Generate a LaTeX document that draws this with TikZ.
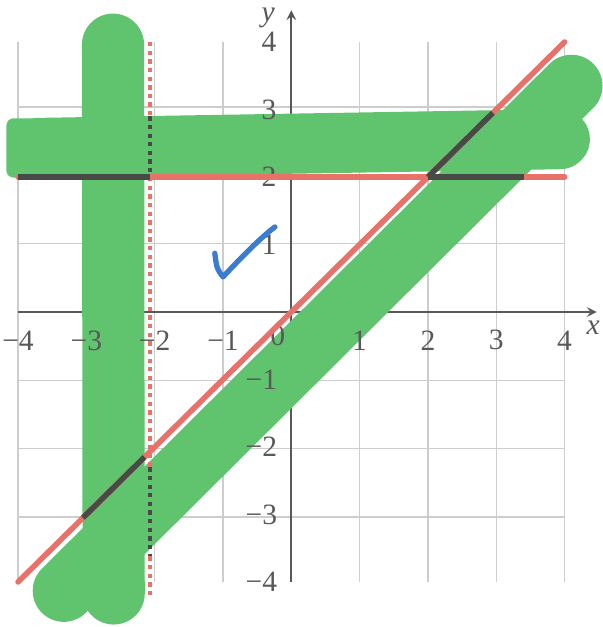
\documentclass[tikz,border=0pt]{standalone}
\usepackage{fontspec}
\setmainfont{Liberation Serif}
\definecolor{hlgreen}{RGB}{96,195,110}
\definecolor{penred}{RGB}{232,114,106}
\definecolor{overdark}{RGB}{72,74,72}
\definecolor{inkblue}{RGB}{58,124,208}
\definecolor{gridgray}{RGB}{205,205,205}
\definecolor{axisgray}{RGB}{88,88,88}
\tikzset{
  marker/.style={hlgreen, line width=0.91cm, line cap=round},
  redline/.style={penred, line width=2.3pt, line cap=round},
  darkline/.style={overdark, line width=2.3pt},
  ticklab/.style={text=axisgray, font=\fontsize{12.3}{14}\selectfont, inner sep=0pt},
}

\begin{document}
\begin{tikzpicture}[x=1cm, y=0.988cm]
            \useasboundingbox (-4.264,-4.667) rectangle (4.561,4.622);
            \draw[gridgray, line width=0.5pt] (-4,-4) grid (4,4);
            \draw[axisgray, line width=0.8pt, ->, >=stealth] (-4,0) -- (4.47,0);
            \draw[axisgray, line width=0.8pt, ->, >=stealth] (0,-4) -- (0,4.47);
            % highlighter
            \draw[marker] (-2.61,3.96) -- (-2.6,-4.17);
            \draw[marker] (-3.33,-4.13) -- (4.1,3.35);
            \draw[marker, line width=0.88cm] (-3.7,2.43) -- (3.93,2.56);
            \fill[hlgreen, rounded corners=3pt] (-4.17,1.99) rectangle (-3.5,2.87);
            % ticks
            \foreach \i in {1,...,4} {
                \node[ticklab] (xp\i) at (\i,-0.42) {\i};
                \node[ticklab] (xm\i) at (-\i,-0.43) {−\i};
                \node[ticklab, anchor=east] (yp\i) at (-0.21,\i) {\i};
                \node[ticklab, anchor=east] (ym\i) at (-0.2,-\i) {−\i};
            }
            \node[ticklab] (orig) at (-0.2,-0.36) {0};
            \node[ticklab, font=\fontsize{12.3}{14}\selectfont\itshape] (xlab) at (4.42,-0.24) {x};
            \node[ticklab, font=\fontsize{12.3}{14}\selectfont\itshape] (ylab) at (-0.34,4.36) {y};
            % lines
            \draw[redline] (-4,-4) -- (4,4);
            \draw[redline] (-4,2) -- (4,2);
            \foreach \a/\b/\c in {4/2.9/penred, 2.9/2/overdark, 2/-2.3/penred, -2.3/-3.62/overdark, -3.62/-4.19/penred}
                \draw[\c, line width=1.8pt, dash pattern=on 1.8pt off 1.8pt] (-2.07,\a) -- (-2.07,\b);
            \draw[darkline] (-4,2) -- (-2.07,2);
            \draw[darkline] (2,2) -- (3.4,2);
            \draw[darkline] (-3.05,-3.05) -- (-2.15,-2.15);
            \draw[darkline] (2,2) -- (2.95,2.95);
            % check
            \draw[inkblue, line width=2.2pt, line cap=round, line join=round] (-1.12,0.87) .. controls (-1.09,0.64) .. (-1.0,0.52) .. controls (-0.72,0.82) and (-0.45,1.1) .. (-0.24,1.26);
        \end{tikzpicture}
\end{document}
